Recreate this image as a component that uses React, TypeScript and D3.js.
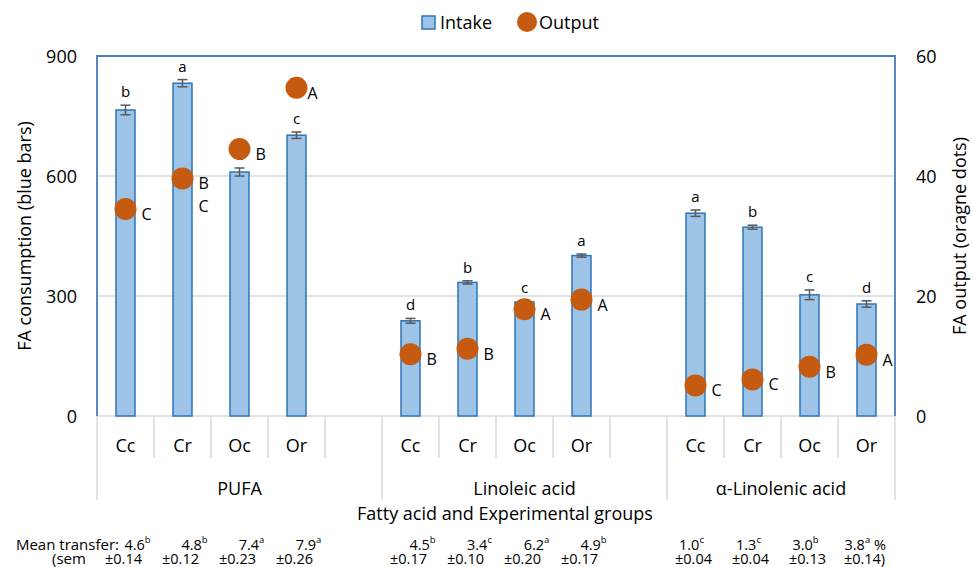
import React from 'react';
import * as d3 from 'd3';

const groups = ['PUFA', 'Linoleic acid', 'α-Linolenic acid'];
const treatments = ['Cc', 'Cr', 'Oc', 'Or'];

// intake (left axis) per group x treatment
const intake = [765, 832, 610, 702, 238, 334, 285, 401, 507, 472, 303, 280];
const intakeSem = [12, 9, 10, 8, 6, 4, 3, 4, 8, 5, 12, 8];
const intakeLetters = ['b', 'a', 'd', 'c', 'd', 'b', 'c', 'a', 'a', 'b', 'c', 'd'];

// output (right axis)
const output = [34.5, 39.6, 44.5, 54.7, 10.3, 11.2, 17.8, 19.4, 5.1, 6.1, 8.2, 10.2];
const outputLetters = ['C', 'B C', 'B', 'A', 'B', 'B', 'A', 'A', 'C', 'C', 'B', 'A'];

// mean transfer rows
const transfer = ['4.6', '4.8', '7.4', '7.9', '4.5', '3.4', '6.2', '4.9', '1.0', '1.3', '3.0', '3.8'];
const transferLetters = ['b', 'b', 'a', 'a', 'b', 'c', 'a', 'b', 'c', 'c', 'b', 'a'];
const transferSem = ['±0.14', '±0.12', '±0.23', '±0.26', '±0.17', '±0.10', '±0.20', '±0.17', '±0.04', '±0.04', '±0.13', '±0.14'];

const leftTicks = [0, 300, 600, 900];
const rightTicks = [0, 20, 40, 60];

const W = 973;
const H = 567;
const plot = { left: 97, right: 895, top: 56, bottom: 416 };

const BAR_FILL = '#9dc3e6';
const BAR_STROKE = '#2e75b6';
const DOT = '#c55a11';
const GRID = '#d9d9d9';
const BORDER = '#4a7ebb';
const TXT = '#000';

// the transfer row was typed with spaces, so it drifts a bit per group
const transferShift = [12, 12, -4];

export default function App() {
  // 14 slots: 4 treatments + an empty one between groups
  const slots: string[] = [];
  groups.forEach((g, gi) => {
    treatments.forEach(t => slots.push(`${gi}-${t}`));
    if (gi < groups.length - 1) slots.push(`${gi}-gap`);
  });

  const x = d3.scaleBand<string>().domain(slots).range([plot.left, plot.right]).padding(0);
  const yL = d3.scaleLinear().domain([0, 900]).range([plot.bottom, plot.top]);
  const yR = d3.scaleLinear().domain([0, 60]).range([plot.bottom, plot.top]);

  const bw = x.bandwidth();
  const barW = bw / 3;

  const items = groups.flatMap((g, gi) =>
    treatments.map((t, ti) => {
      const i = gi * treatments.length + ti;
      const key = `${gi}-${t}`;
      return { i, gi, key, t, cx: (x(key) as number) + bw / 2 };
    })
  );

  const groupSpans = groups.map((g, gi) => {
    const first = x(`${gi}-Cc`) as number;
    const lastKey = gi < groups.length - 1 ? `${gi}-gap` : `${gi}-Or`;
    const last = (x(lastKey) as number) + bw;
    return { g, x0: first, x1: last };
  });

  const font = '"Open Sans", sans-serif';
  const row1 = 544;
  const row2 = 558;

  return (
    <svg width={W} height={H} style={{ position: 'absolute', left: 0, top: 0, background: '#fff' }} fontFamily={font}>
      {/* gridlines */}
      {leftTicks.filter(v => v > 0 && v < 900).map(v => (
        <line key={v} x1={plot.left} x2={plot.right} y1={yL(v)} y2={yL(v)} stroke={GRID} strokeWidth={1.3} />
      ))}

      {/* category axis separators */}
      <line x1={plot.left} x2={plot.right} y1={plot.bottom} y2={plot.bottom} stroke={GRID} strokeWidth={1.5} />
      {slots.map((s, si) => {
        const xx = x(s) as number;
        const isGroupEdge = si === 0 || s.endsWith('-Cc');
        return (
          <line key={s} x1={xx} x2={xx} y1={plot.bottom} y2={isGroupEdge ? 500 : 458} stroke={GRID} strokeWidth={1.5} />
        );
      })}
      <line x1={plot.right} x2={plot.right} y1={plot.bottom} y2={500} stroke={GRID} strokeWidth={1.5} />

      {/* bars */}
      {items.map(d => (
        <rect key={d.key} x={d.cx - barW / 2} y={yL(intake[d.i])} width={barW}
          height={plot.bottom - yL(intake[d.i])} fill={BAR_FILL} stroke={BAR_STROKE} strokeWidth={1.5} />
      ))}

      {/* error bars */}
      {items.map(d => {
        const hi = yL(intake[d.i] + intakeSem[d.i]);
        const lo = yL(intake[d.i] - intakeSem[d.i]);
        return (
          <g key={d.key} stroke="#595959" strokeWidth={1.5}>
            <line x1={d.cx} x2={d.cx} y1={hi} y2={lo} />
            <line x1={d.cx - 5} x2={d.cx + 5} y1={hi} y2={hi} />
            <line x1={d.cx - 5} x2={d.cx + 5} y1={lo} y2={lo} />
          </g>
        );
      })}

      {/* bar letters */}
      {items.map(d => (
        <text key={d.key} x={d.cx} y={yL(intake[d.i] + intakeSem[d.i]) - 14} textAnchor="middle"
          dominantBaseline="central" fontSize={15} fill={TXT}>{intakeLetters[d.i]}</text>
      ))}

      {/* output dots */}
      {items.map(d => (
        <circle key={d.key} cx={d.cx} cy={yR(output[d.i])} r={11} fill={DOT} />
      ))}
      {items.map(d => {
        const lx = d.cx + (d.i === 3 ? 11 : 16);
        return (
          <text key={d.key} x={lx} y={yR(output[d.i]) + 5} dominantBaseline="central" fontSize={16} fill={TXT}>
            {outputLetters[d.i].split(' ').map((l, li) => (
              <tspan key={li} x={lx} dy={li === 0 ? 0 : 23}>{l}</tspan>
            ))}
          </text>
        );
      })}

      {/* plot border */}
      <path d={`M${plot.left},${plot.bottom}V${plot.top}H${plot.right}V${plot.bottom}`} fill="none" stroke={BORDER} strokeWidth={1.8} />

      {/* left axis */}
      {leftTicks.map(v => (
        <text key={v} x={77} y={yL(v)} textAnchor="end" dominantBaseline="central" fontSize={18} fill={TXT}>{v}</text>
      ))}
      {/* right axis */}
      {rightTicks.map(v => (
        <text key={v} x={916} y={yR(v)} textAnchor="start" dominantBaseline="central" fontSize={18} fill={TXT}>{v}</text>
      ))}

      <text transform={`translate(24,${(plot.top + plot.bottom) / 2}) rotate(-90)`} textAnchor="middle"
        dominantBaseline="central" fontSize={18} fill={TXT}>FA consumption (blue bars)</text>
      <text transform={`translate(959,${(plot.top + plot.bottom) / 2}) rotate(-90)`} textAnchor="middle"
        dominantBaseline="central" fontSize={18} fill={TXT}>FA output (oragne dots)</text>

      {/* category labels */}
      {items.map(d => (
        <text key={d.key} x={d.cx} y={445} textAnchor="middle" dominantBaseline="central" fontSize={18} fill={TXT}>{d.t}</text>
      ))}
      {groupSpans.map(s => (
        <text key={s.g} x={(s.x0 + s.x1) / 2} y={488} textAnchor="middle" dominantBaseline="central" fontSize={18} fill={TXT}>{s.g}</text>
      ))}
      <text x={(plot.left + plot.right) / 2 + 9} y={513} textAnchor="middle" dominantBaseline="central" fontSize={18} fill={TXT}>
        Fatty acid and Experimental groups
      </text>

      {/* legend */}
      <rect x={422} y={16} width={13} height={13} fill={BAR_FILL} stroke={BAR_STROKE} strokeWidth={1.5} />
      <text x={440} y={22} dominantBaseline="central" fontSize={18} fill={TXT}>Intake</text>
      <circle cx={527} cy={22} r={10} fill={DOT} />
      <text x={539} y={22} dominantBaseline="central" fontSize={18} fill={TXT}>Output</text>

      {/* mean transfer rows */}
      <text x={119} y={row1} textAnchor="end" dominantBaseline="central" fontSize={15} fill={TXT}>Mean transfer:</text>
      <text x={52} y={row2} textAnchor="start" dominantBaseline="central" fontSize={15} fill={TXT}>(sem</text>
      {items.map(d => {
        const last = d.i === items.length - 1;
        return (
          <g key={d.key}>
            <text x={d.cx + transferShift[d.gi]} y={row1} textAnchor={last ? 'start' : 'middle'}
              dx={last ? -18 : 0} dominantBaseline="central" fontSize={14.5} fill={TXT}>
              {transfer[d.i]}
              <tspan fontSize={9.5} dy={-5}>{transferLetters[d.i]}</tspan>
              {last ? <tspan dy={5} fontSize={14.5}> %</tspan> : null}
            </text>
            <text x={d.cx - 2} y={row2} textAnchor="middle" dominantBaseline="central" fontSize={14.5} fill={TXT}>
              {transferSem[d.i] + (last ? ')' : '')}
            </text>
          </g>
        );
      })}
    </svg>
  );
}
